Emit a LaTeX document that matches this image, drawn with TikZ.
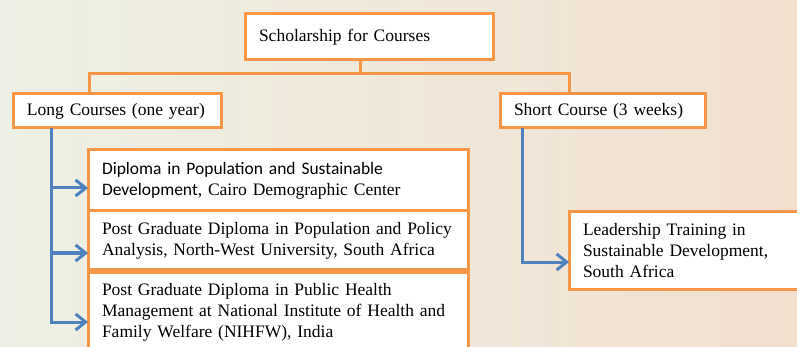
\documentclass[tikz,border=0pt]{standalone}
\usepackage{fontspec}
\setmainfont{Liberation Serif}
\newfontfamily\calibri{Carlito}
\usetikzlibrary{arrows.meta}
\definecolor{boxorange}{RGB}{247,150,70}
\definecolor{arrowblue}{RGB}{79,129,189}
\definecolor{bgleft}{RGB}{237,240,228}
\definecolor{bgright}{RGB}{242,224,207}

\begin{document}
\begin{tikzpicture}[x=1pt, y=-1pt,
        box/.style={draw=boxorange, line width=3pt, fill=white, anchor=north west,
            inner xsep=14pt, inner ysep=11pt, outer sep=0pt, align=left,
            font=\fontsize{17.5}{21}\selectfont},
        tree/.style={draw=boxorange, line width=3pt},
        branch/.style={draw=arrowblue, line width=3pt,
            -{Straight Barb[length=10pt,width=16pt]}}]
    \path[use as bounding box, left color=bgleft, right color=bgright]
        (0,0) rectangle (797,347);

    \node[box, minimum width=248pt, minimum height=46pt, inner ysep=0pt, text width=220pt]
        (root) at (245,14) {Scholarship for Courses};
    \node[box, minimum height=34pt, inner ysep=0pt, text width=180pt]
        (long) at (13,94) {Long Courses (one year)};
    \node[box, minimum height=34pt, inner ysep=0pt, text width=177pt]
        (short) at (500,94) {Short Course (3 weeks)};

    \node[box, minimum height=61pt, text width=352pt] (dpsd) at (88,150)
        {{\calibri Diploma in Population and Sustainable}\\
         {\calibri Development}, Cairo Demographic Center};
    \node[box, minimum height=57pt, text width=352pt] (pgdpp) at (88,211)
        {Post Graduate Diploma in Population and Policy\\
         Analysis, North-West University, South Africa};
    \node[box, text width=352pt] (pgdph) at (88,272)
        {Post Graduate Diploma in Public Health\\
         Management at National Institute of Health and\\
         Family Welfare (NIHFW), India};
    \node[box, minimum height=77pt, text width=222pt] (leaf) at (569,212)
        {Leadership Training in\\
         Sustainable Development,\\
         South Africa};

    % orange tree
    \coordinate (split) at (360,74);
    \draw[tree] (root.south -| split) -- (split);
    \draw[tree] (split) -| ([xshift=76pt]long.north west);
    \draw[tree] (split) -| ([xshift=69pt]short.north west);

    % blue arrows
    \coordinate (ltrunk) at ([xshift=38pt]long.south west);
    \coordinate (rtrunk) at ([xshift=22pt]short.south west);
    \coordinate (a1) at ([yshift=-38pt]dpsd.north west);
    \coordinate (a2) at ([yshift=-42pt]pgdpp.north west);
    \coordinate (a3) at ([yshift=-50pt]pgdph.north west);
    \coordinate (a4) at ([yshift=-50pt]leaf.north west);
    \draw[branch] (ltrunk) |- (a3);
    \draw[branch] (ltrunk |- a1) -- (a1);
    \draw[branch] (ltrunk |- a2) -- (a2);
    \draw[branch] (rtrunk) |- (a4);
\end{tikzpicture}
\end{document}
